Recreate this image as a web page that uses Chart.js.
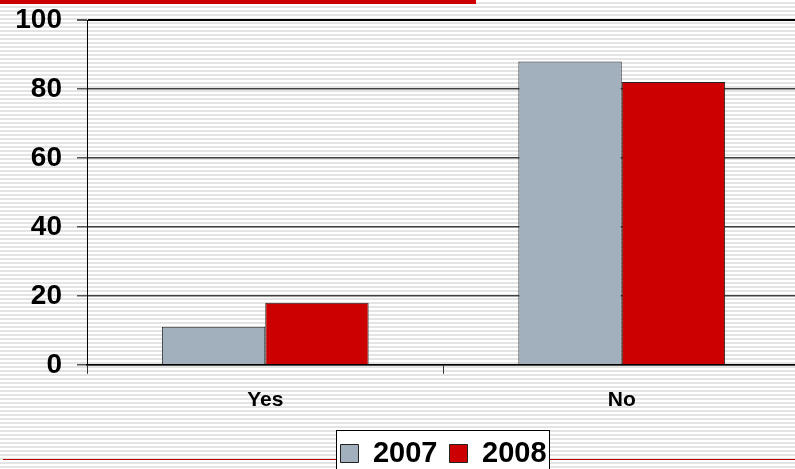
<!DOCTYPE html>
<html>
<head>
<meta charset="utf-8">
<script src="https://cdn.jsdelivr.net/npm/chart.js@4/dist/chart.umd.min.js"></script>
<style>
  html, body { margin: 0; padding: 0; }
  body {
    width: 795px; height: 469px; overflow: hidden; position: relative;
    background: repeating-linear-gradient(to bottom, #ffffff 0px, #ffffff 2px, #e4e4e4 2px, #e4e4e4 4px);
  }
  #topbar { position: absolute; left: 0; top: 0; width: 476px; height: 4px; background: #cc0000; }
  #rule { position: absolute; left: 3px; top: 459px; width: 792px; height: 1px; background: #b40000; }
  #wrap { position: absolute; left: 0; top: 0; width: 795px; height: 469px; overflow: hidden; }
</style>
</head>
<body>
<div id="topbar"></div>
<div id="rule"></div>
<div id="wrap"><canvas id="c" width="800" height="469"></canvas></div>
<script>
const categories = ['Yes', 'No'];
const seriesNames = ['2007', '2008'];
const values2007 = [11, 88];
const values2008 = [18, 82];
const yTicks = [0, 20, 40, 60, 80, 100];

const FONT = "'Liberation Sans', Arial, sans-serif";

// White framed box behind the legend
const legendFrame = {
  id: 'legendFrame',
  beforeDraw(chart) {
    const lg = chart.legend;
    if (!lg || !lg.legendHitBoxes || !lg.legendHitBoxes.length) return;
    const boxes = lg.legendHitBoxes;
    const x0 = Math.min(...boxes.map(b => b.left)) - 4;
    const x1 = Math.max(...boxes.map(b => b.left + b.width)) + 3;
    const y0 = Math.min(...boxes.map(b => b.top)) - 9;
    const ctx = chart.ctx;
    ctx.save();
    ctx.fillStyle = '#ffffff';
    ctx.fillRect(x0, y0, x1 - x0, 60);
    ctx.strokeStyle = '#000000';
    ctx.lineWidth = 1;
    ctx.strokeRect(Math.round(x0) + 0.5, Math.round(y0) + 0.5, Math.round(x1 - x0), 60);
    ctx.restore();
  }
};

new Chart(document.getElementById('c'), {
  type: 'bar',
  data: {
    labels: categories,
    datasets: [
      { label: seriesNames[0], data: values2007, backgroundColor: '#a2b0be', borderColor: '#222222', borderWidth: 1 },
      { label: seriesNames[1], data: values2008, backgroundColor: '#cc0000', borderColor: '#222222', borderWidth: 1 }
    ]
  },
  options: {
    responsive: false,
    animation: false,
    datasets: { bar: { categoryPercentage: 0.58, barPercentage: 1.0 } },
    layout: { padding: { top: 20, right: 0, left: 0, bottom: -9 } },
    scales: {
      y: {
        min: 0, max: 100,
        afterBuildTicks(scale) { scale.ticks = yTicks.map(v => ({ value: v })); },
        afterFit(scale) { scale.width = 87; scale.paddingTop = 0; scale.paddingBottom = 0; },
        border: { display: true, color: '#000000', width: 1 },
        grid: {
          color: ctx => ctx.tick && ctx.tick.value === 100 ? '#000000' : '#404040',
          lineWidth: ctx => ctx.tick && ctx.tick.value === 100 ? 2 : 1.5,
          tickLength: 10,
          tickColor: '#555555'
        },
        ticks: { color: '#000000', padding: 15, font: { family: FONT, size: 28, weight: 'bold' } }
      },
      x: {
        offset: true,
        afterFit(scale) { scale.paddingLeft = 0; scale.paddingRight = 0; },
        border: { display: true, color: '#000000', width: 1.5 },
        grid: { offset: true, drawOnChartArea: false, drawTicks: true, tickLength: 9, tickColor: '#333333' },
        ticks: { color: '#000000', padding: 14, font: { family: FONT, size: 21, weight: 'bold' } }
      }
    },
    plugins: {
      legend: {
        position: 'bottom',
        fullSize: false,
        labels: {
          color: '#000000',
          boxWidth: 18, boxHeight: 18,
          padding: 12,
          font: { family: FONT, size: 29, weight: 'bold' }
        }
      },
      tooltip: { enabled: false }
    }
  },
  plugins: [legendFrame]
});
</script>
</body>
</html>
